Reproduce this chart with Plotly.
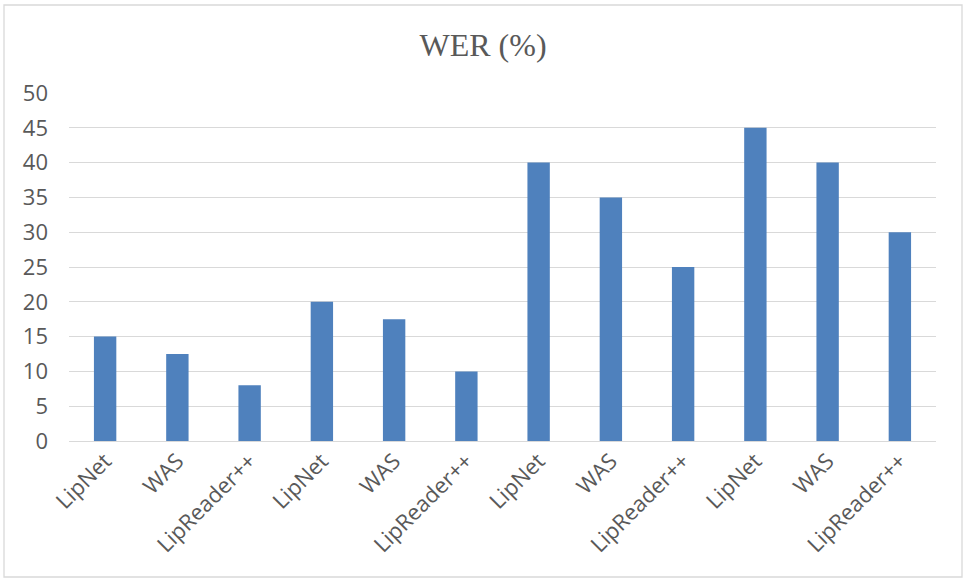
import plotly.graph_objects as go

categories = ["LipNet", "WAS", "LipReader++", "LipNet", "WAS", "LipReader++",
              "LipNet", "WAS", "LipReader++", "LipNet", "WAS", "LipReader++"]
wer_values = [15, 12.5, 8, 20, 17.5, 10, 40, 35, 25, 45, 40, 30]
y_ticks = [0, 5, 10, 15, 20, 25, 30, 35, 40, 45, 50]

W, H = 966, 580
ML, MR, MT, MB = 69, 30, 93, 139
pw, ph = W - ML - MR, H - MT - MB

positions = list(range(len(categories)))

fig = go.Figure(go.Bar(
    x=positions, y=wer_values,
    marker=dict(color="#4F81BD", line=dict(width=0)),
    width=0.31,
))

grey = "#595959"
tick_font = dict(family="Open Sans, Liberation Sans, sans-serif", size=22, color=grey)
fig.update_layout(
    width=W, height=H,
    margin=dict(l=ML, r=MR, t=MT, b=MB, pad=0),
    paper_bgcolor="white", plot_bgcolor="white",
    showlegend=False,
    title=dict(text="WER (%)", x=0.5, xanchor="center", y=1 - 45 / H, yanchor="middle",
               font=dict(family="Liberation Serif, Times New Roman, serif", size=32, color=grey)),
    xaxis=dict(range=[-0.5, len(categories) - 0.5], tickmode="array", tickvals=positions,
               ticktext=categories, tickangle=-45, showgrid=False, zeroline=False,
               showline=False, ticks="", ticklabelstandoff=2, tickfont=tick_font),
    yaxis=dict(range=[0, 50], tickmode="array", tickvals=y_ticks, showgrid=True,
               gridcolor="#D9D9D9", gridwidth=1.3, zeroline=True, zerolinecolor="#D9D9D9",
               zerolinewidth=1.3, showline=False, ticks="", ticklabelstandoff=20,
               tickfont=tick_font),
)

# outer chart border
x0 = (4 - ML) / pw
x1 = (962 - ML) / pw
y0 = -(577 - (MT + ph)) / ph
y1 = 1 + (MT - 5) / ph
fig.add_shape(type="rect", xref="paper", yref="paper", x0=x0, x1=x1, y0=y0, y1=y1,
              line=dict(color="#D9D9D9", width=1.3), fillcolor="rgba(0,0,0,0)", layer="below")

fig.write_html("out.html")
